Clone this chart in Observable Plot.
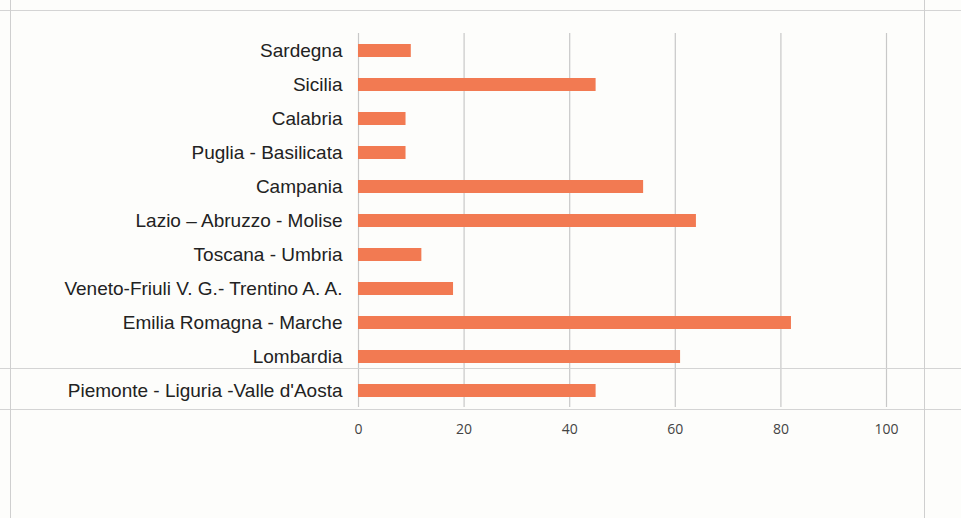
<!DOCTYPE html>
<html>
<head>
<meta charset="utf-8">
<script src="https://cdn.jsdelivr.net/npm/d3@7"></script>
<script src="https://cdn.jsdelivr.net/npm/@observablehq/plot@0.6"></script>
<style>
  html, body { margin: 0; padding: 0; background: #fdfdfb; }
  #wrap { position: relative; width: 961px; height: 518px; overflow: hidden; }
  .deco-h { position: absolute; left: 0; width: 961px; height: 0; border-top: 1.5px solid #d4d4d4; }
  .deco-v { position: absolute; top: 0; height: 518px; width: 0; border-left: 1.5px solid #cfcfcf; }
</style>
</head>
<body>
<div id="wrap">
  <div id="chart"></div>
  <div class="deco-h" style="top:10px;"></div>
  <div class="deco-h" style="top:368px;"></div>
  <div class="deco-h" style="top:409px;"></div>
  <div class="deco-v" style="left:10px;"></div>
  <div class="deco-v" style="left:924px;"></div>
</div>
<script>
const regions = [
  "Sardegna",
  "Sicilia",
  "Calabria",
  "Puglia - Basilicata",
  "Campania",
  "Lazio – Abruzzo - Molise",
  "Toscana - Umbria",
  "Veneto-Friuli V. G.- Trentino A. A.",
  "Emilia Romagna - Marche",
  "Lombardia",
  "Piemonte - Liguria -Valle d'Aosta"
];
const values = [10, 45, 9, 9, 54, 64, 12, 18, 82, 61, 45];
const xTicks = [0, 20, 40, 60, 80, 100];

const data = regions.map((r, i) => ({region: r, value: values[i]}));

const chart = Plot.plot({
  width: 961,
  height: 450,
  marginLeft: 358,
  marginRight: 75,
  marginTop: 33,
  marginBottom: 43,
  style: {background: "transparent", fontFamily: "'Liberation Sans', Arial, sans-serif"},
  x: {domain: [0, 100], ticks: xTicks, label: null},
  y: {domain: regions, label: null, paddingInner: 0.62, paddingOuter: 0.31},
  marks: [
    Plot.gridX(xTicks, {stroke: "#c8c8c8", strokeOpacity: 1, strokeWidth: 1.2}),
    Plot.barX(data, {x: "value", y: "region", fill: "#f27a52"}),
    Plot.axisX({ticks: xTicks, tickSize: 0, tickPadding: 17, fontSize: 14, fill: "#444", label: null, fontFamily: "'Open Sans', sans-serif"}),
    Plot.axisY({tickSize: 0, tickPadding: 16, fontSize: 19, fill: "#222", label: null})
  ]
});
document.getElementById("chart").appendChild(chart);
</script>
</body>
</html>
